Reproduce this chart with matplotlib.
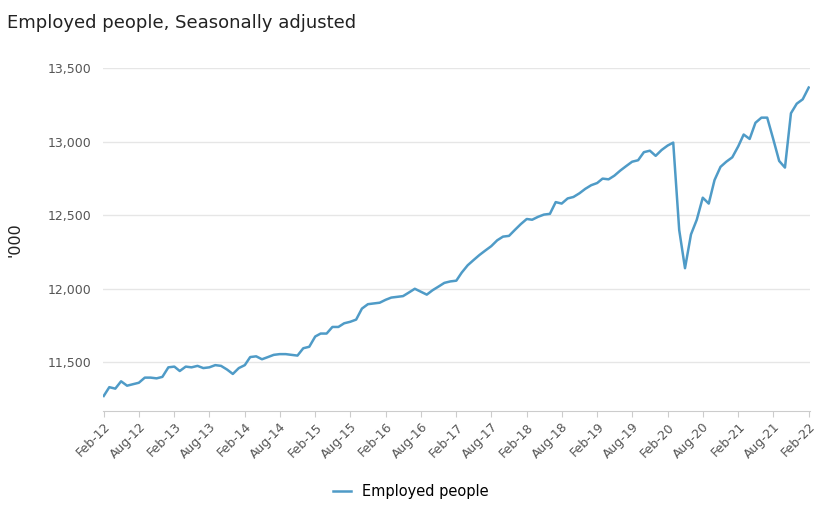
import matplotlib.pyplot as plt
import pandas as pd

# Monthly values, Feb-12 .. Feb-22 ('000)
employed = [
    11270, 11330, 11320, 11370, 11340, 11350, 11360, 11395, 11395, 11390, 11400, 11465,  # Feb12-Jan13
    11470, 11440, 11470, 11465, 11475, 11460, 11465, 11480, 11475, 11450, 11420, 11460,  # Feb13-Jan14
    11480, 11535, 11540, 11520, 11535, 11550, 11555, 11555, 11550, 11545, 11595, 11605,  # Feb14-Jan15
    11675, 11695, 11695, 11740, 11740, 11765, 11775, 11790, 11865, 11895, 11900, 11905,  # Feb15-Jan16
    11925, 11940, 11945, 11950, 11975, 12000, 11980, 11960, 11990, 12015, 12040, 12050,  # Feb16-Jan17
    12055, 12110, 12160, 12195, 12230, 12260, 12290, 12330, 12355, 12360, 12400, 12440,  # Feb17-Jan18
    12475, 12470, 12490, 12505, 12510, 12590, 12580, 12615, 12625, 12650, 12680, 12705,  # Feb18-Jan19
    12720, 12750, 12745, 12770, 12805, 12835, 12865, 12875, 12930, 12940, 12905, 12945,  # Feb19-Jan20
    12975, 12995, 12400, 12140, 12370, 12470, 12620, 12580, 12740, 12830, 12865, 12895,  # Feb20-Jan21
    12970, 13050, 13020, 13130, 13165, 13165, 13020, 12870, 12825, 13195, 13260, 13290,  # Feb21-Jan22
    13370,                                                                              # Feb22
]
dates = pd.date_range("2012-02-01", periods=len(employed), freq="MS")
tick_dates = dates[::6]
tick_labels = [d.strftime("%b-%y") for d in tick_dates]

fig, ax = plt.subplots(figsize=(8.22, 5.07), dpi=100)
fig.subplots_adjust(left=0.125, right=0.985, top=0.865, bottom=0.19)

ax.plot(dates, employed, color="#4f9bc7", lw=1.8, label="Employed people")

ax.set_ylim(11170, 13500)
ax.set_yticks([11500, 12000, 12500, 13000, 13500])
ax.set_yticklabels(["11,500", "12,000", "12,500", "13,000", "13,500"])
ax.set_xlim(dates[0] - pd.Timedelta(days=5), dates[-1] + pd.Timedelta(days=5))
ax.set_xticks(tick_dates)
ax.set_xticklabels(tick_labels, rotation=45, ha="right", rotation_mode="anchor")
ax.tick_params(colors="#555555", labelsize=9, length=0, pad=8)
ax.tick_params(axis="x", length=4, color="#cccccc", pad=3)

ax.grid(axis="y", color="#e6e6e6", lw=1)
for s in ["top", "right", "left"]:
    ax.spines[s].set_visible(False)
ax.spines["bottom"].set_color("#cccccc")

ax.set_ylabel("'000", fontsize=11.5, color="#222222", labelpad=18)
fig.text(0.008, 0.955, "Employed people, Seasonally adjusted", fontsize=13,
         color="#222222", weight="medium", va="center")
fig.legend(loc="lower center", bbox_to_anchor=(0.5, -0.01), frameon=False, fontsize=10.5,
           handlelength=1.2)

plt.savefig("out.png", dpi=100)
